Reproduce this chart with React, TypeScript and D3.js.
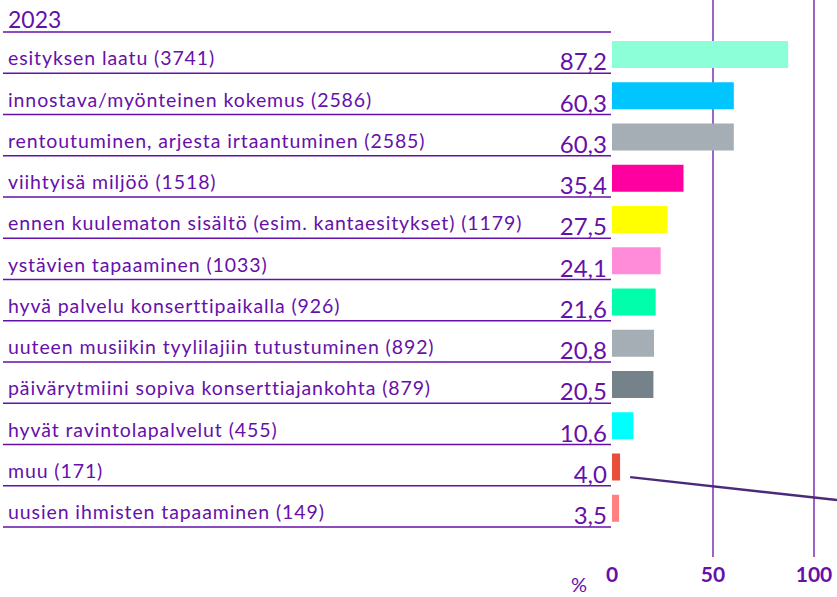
import * as d3 from "d3";

const categories = [
  "esityksen laatu (3741)",
  "innostava/myönteinen kokemus (2586)",
  "rentoutuminen, arjesta irtaantuminen (2585)",
  "viihtyisä miljöö (1518)",
  "ennen kuulematon sisältö (esim. kantaesitykset) (1179)",
  "ystävien tapaaminen (1033)",
  "hyvä palvelu konserttipaikalla (926)",
  "uuteen musiikin tyylilajiin tutustuminen (892)",
  "päivärytmiini sopiva konserttiajankohta (879)",
  "hyvät ravintolapalvelut (455)",
  "muu (171)",
  "uusien ihmisten tapaaminen (149)",
];
const values = [87.2, 60.3, 60.3, 35.4, 27.5, 24.1, 21.6, 20.8, 20.5, 10.6, 4.0, 3.5];
const barColors = [
  "#8cffd8", "#00c5ff", "#a5aeb4", "#ff00a0", "#ffff00", "#ff8cd8",
  "#00ffaa", "#a5aeb4", "#76828a", "#00ffff", "#e84e3a", "#ff8080",
];
const ticks = [0, 50, 100];

const W = 837;
const H = 597;
const purple = "#6610aa";
const font = "Lato, 'Open Sans', sans-serif";

export default function App() {
  const x = d3.scaleLinear().domain([0, 100]).range([612, 814]);
  const y = d3.scaleBand<string>().domain(categories).range([32, 527]).padding(0);
  const bw = y.bandwidth();
  const fmt = (v: number) => v.toFixed(1).replace(".", ",");

  return (
    <svg
      width={W}
      height={H}
      style={{ position: "absolute", left: 0, top: 0, background: "#fff" }}
      fontFamily={font}
    >
      {ticks.slice(1).map((t) => (
        <line key={t} x1={x(t)} x2={x(t)} y1={0} y2={557} stroke={purple} strokeWidth={1.3} />
      ))}
      <text x={8} y={28} fontSize={23} fill={purple}>2023</text>
      <line x1={3} x2={611} y1={32} y2={32} stroke={purple} strokeWidth={1.5} />
      {categories.map((c, i) => {
        const top = y(c)!;
        const bottom = top + bw;
        return (
          <g key={c}>
            <line x1={3} x2={611} y1={bottom} y2={bottom} stroke={purple} strokeWidth={1.5} />
            <text x={8} y={bottom - 8} fontSize={19.5} letterSpacing={0.9} fill={purple}>{c}</text>
            <text x={607} y={bottom - 3} fontSize={24} fill={purple} textAnchor="end">
              {fmt(values[i])}
            </text>
            <rect
              x={x(0)}
              y={top + 9}
              width={x(values[i]) - x(0)}
              height={27}
              fill={barColors[i]}
            />
          </g>
        );
      })}
      <line
        x1={x(9)}
        y1={y(categories[10])! + bw / 2 + 12}
        x2={W}
        y2={y(categories[10])! + bw / 2 + 35}
        stroke="#4b2a7a"
        strokeWidth={2.5}
      />
      {ticks.map((t) => (
        <text
          key={t}
          x={x(t)}
          y={582}
          fontSize={21}
          fontWeight="bold"
          fill={purple}
          textAnchor="middle"
        >
          {t}
        </text>
      ))}
      <text x={579} y={592} fontSize={20} fill={purple} textAnchor="middle">%</text>
    </svg>
  );
}
